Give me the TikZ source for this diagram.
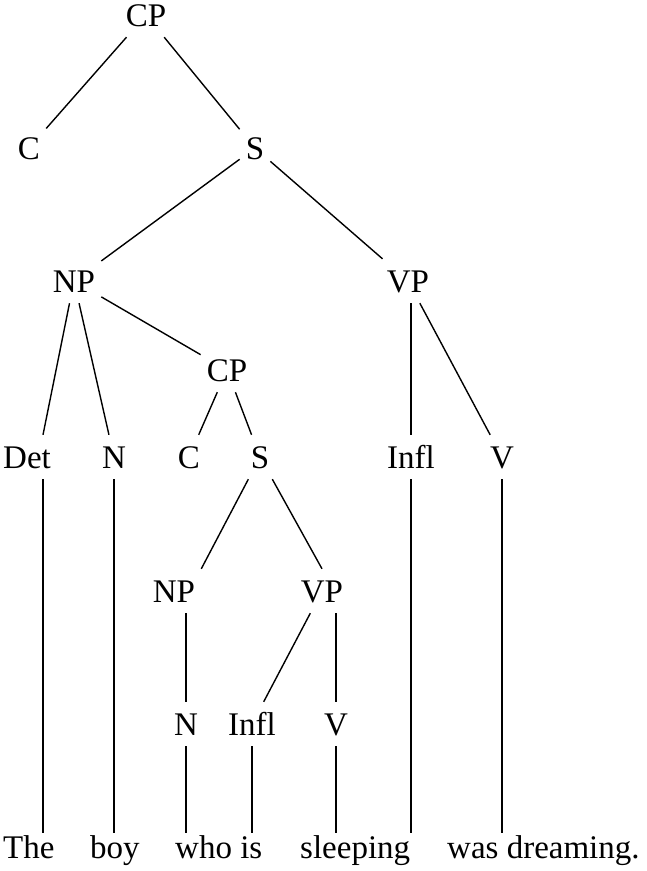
\documentclass[tikz,border=0pt]{standalone}
\usepackage{fontspec}
\setmainfont{Liberation Serif}
\tikzset{
  cat/.style={font=\fontsize{33}{40}\selectfont,anchor=base,inner xsep=6pt,inner ysep=11pt,text height=22pt,text depth=0pt},
  word/.style={font=\fontsize{33}{40}\selectfont,anchor=base west,inner xsep=0pt,inner ysep=3pt,text height=22pt,text depth=0pt},
  branch/.style={line width=1.4pt}
}
\begin{document}
\begin{tikzpicture}[x=1pt,y=-1pt]
    \useasboundingbox (0,0) rectangle (647,871);
    % categories
    \node[cat] (cp1) at (146,26){CP};
    \node[cat] (c1) at (29,159){C};
    \node[cat] (s1) at (255,159){S};
    \node[cat] (np1) at (74,292){NP};
    \node[cat] (vp1) at (408,292){VP};
    \node[cat] (cp2) at (227,381){CP};
    \node[cat] (det) at (27,468){Det};
    \node[cat] (n1) at (114,468){N};
    \node[cat] (c2) at (189,468){C};
    \node[cat] (s2) at (260,468){S};
    \node[cat] (infl1) at (411,468){Infl};
    \node[cat] (v1) at (502,468){V};
    \node[cat] (np2) at (174,602){NP};
    \node[cat] (vp2) at (322,602){VP};
    \node[cat] (n2) at (186,735){N};
    \node[cat] (infl2) at (252,735){Infl};
    \node[cat] (v2) at (336,735){V};
    % words
    \node[word] (w1) at (3,858){The};
    \node[word] (w2) at (90,858){boy};
    \node[word] (w3) at (175,858){who is};
    \node[word] (w4) at (300,858){sleeping};
    \node[word] (w5) at (447,858){was dreaming.};
    % branches
    \draw[branch] (cp1)--(c1);
    \draw[branch] (cp1)--(s1);
    \draw[branch] (s1)--(np1);
    \draw[branch] (s1)--(vp1);
    \draw[branch] (np1)--([xshift=16pt]det.north);
    \draw[branch] (np1)--(n1);
    \draw[branch] (np1)--(cp2);
    \draw[branch] (cp2)--(c2);
    \draw[branch] (cp2)--(s2);
    \draw[branch] (infl1.north |- vp1.south)--(infl1);
    \draw[branch] (vp1)--(v1);
    \draw[branch] (s2)--(np2.north east);
    \draw[branch] (s2)--(vp2.north);
    \draw[branch] (n2.north |- np2.south)--(n2);
    \draw[branch] (vp2)--(infl2);
    \draw[branch] (v2.north |- vp2.south)--(v2);
    % down to the words
    \draw[branch] ([xshift=16pt]det.south)--([xshift=16pt]det.south |- w1.north);
    \draw[branch] (n1.south)--(n1.south |- w2.north);
    \draw[branch] (n2.south)--(n2.south |- w3.north);
    \draw[branch] (infl2.south)--(infl2.south |- w3.north);
    \draw[branch] (v2.south)--(v2.south |- w4.north);
    \draw[branch] (infl1.south)--(infl1.south |- w4.north);
    \draw[branch] (v1.south)--(v1.south |- w5.north);
  \end{tikzpicture}
\end{document}
